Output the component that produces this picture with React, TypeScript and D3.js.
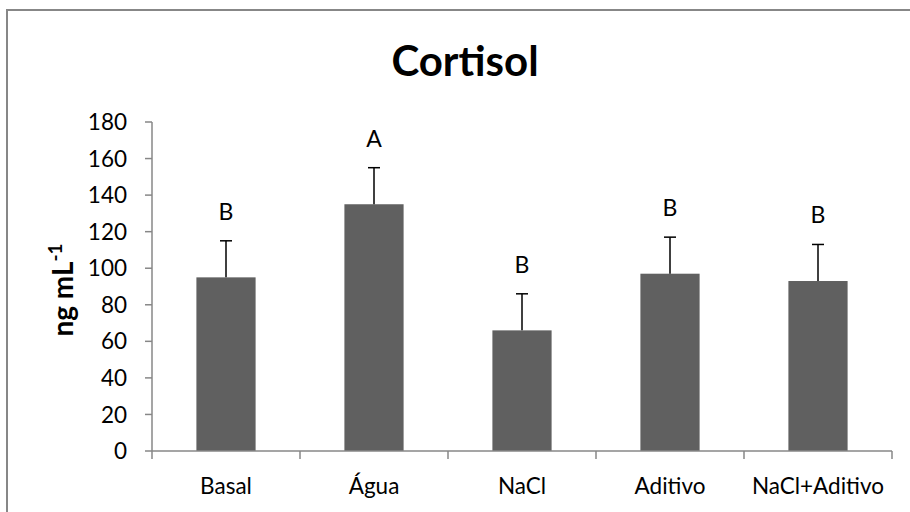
import React, { useEffect, useRef } from 'react';
import * as d3 from 'd3';

const categories = ['Basal', 'Água', 'NaCl', 'Aditivo', 'NaCl+Aditivo'];
const means = [95, 135, 66, 97, 93];
const errors = [20, 20, 20, 20, 20];
const letters = ['B', 'A', 'B', 'B', 'B'];
const yTicks = [0, 20, 40, 60, 80, 100, 120, 140, 160, 180];

const FONT = 'Lato, "Open Sans", sans-serif';

const CortisolChart: React.FC<{ width?: number; height?: number }> = ({
  width = 910,
  height = 512,
}) => {
  const svgRef = useRef<SVGSVGElement>(null);

  useEffect(() => {
    if (!svgRef.current) return;
    const svg = d3.select(svgRef.current);
    svg.selectAll('*').remove();

    const left = 152;
    const right = 892;
    const top = 122;
    const bottom = 451;

    const x = d3.scaleBand<string>().domain(categories).range([left, right]).paddingInner(0).paddingOuter(0);
    const y = d3.scaleLinear().domain([0, 180]).range([bottom, top]);
    const barW = x.bandwidth() * 0.4;

    // outer frame (cut off at right/bottom like the source)
    svg
      .append('rect')
      .attr('x', 7)
      .attr('y', 10)
      .attr('width', width + 20)
      .attr('height', height + 20)
      .attr('fill', 'white')
      .attr('stroke', '#878787')
      .attr('stroke-width', 2);

    // title
    svg
      .append('text')
      .attr('x', (left + right) / 2 - 57)
      .attr('y', 76)
      .attr('text-anchor', 'middle')
      .style('font-family', FONT)
      .style('font-weight', 700)
      .style('font-size', '42px')
      .style('fill', '#000')
      .text('Cortisol');

    // y axis
    const axisColor = '#878787';
    svg
      .append('line')
      .attr('x1', left)
      .attr('x2', left)
      .attr('y1', top)
      .attr('y2', bottom)
      .attr('stroke', axisColor)
      .attr('stroke-width', 1.5);

    const yt = svg.append('g');
    yt.selectAll('line')
      .data(yTicks)
      .enter()
      .append('line')
      .attr('x1', left - 7)
      .attr('x2', left)
      .attr('y1', d => y(d))
      .attr('y2', d => y(d))
      .attr('stroke', axisColor)
      .attr('stroke-width', 1.5);
    yt.selectAll('text')
      .data(yTicks)
      .enter()
      .append('text')
      .attr('x', left - 25)
      .attr('y', d => y(d))
      .attr('dy', '0.36em')
      .attr('text-anchor', 'end')
      .style('font-family', FONT)
      .style('font-size', '22.5px')
      .style('fill', '#000')
      .text(d => d);

    // y label
    const yl = svg
      .append('text')
      .attr('transform', `translate(73,290) rotate(-90)`)
      .attr('text-anchor', 'middle')
      .style('font-family', FONT)
      .style('font-weight', 700)
      .style('font-size', '28px')
      .style('fill', '#000');
    yl.append('tspan').text('ng mL');
    yl.append('tspan').attr('dy', -11).style('font-size', '19px').text('-1');

    // bars
    svg
      .append('g')
      .selectAll('rect')
      .data(means)
      .enter()
      .append('rect')
      .attr('x', (d, i) => (x(categories[i]) as number) + (x.bandwidth() - barW) / 2)
      .attr('y', d => y(d))
      .attr('width', barW)
      .attr('height', d => bottom - y(d))
      .attr('fill', '#606060');

    // error bars (upper only)
    const eb = svg.append('g');
    means.forEach((m, i) => {
      const cx = (x(categories[i]) as number) + x.bandwidth() / 2;
      eb.append('line')
        .attr('x1', cx)
        .attr('x2', cx)
        .attr('y1', y(m))
        .attr('y2', y(m + errors[i]))
        .attr('stroke', '#000')
        .attr('stroke-width', 1.5);
      eb.append('line')
        .attr('x1', cx - 6)
        .attr('x2', cx + 6)
        .attr('y1', y(m + errors[i]))
        .attr('y2', y(m + errors[i]))
        .attr('stroke', '#000')
        .attr('stroke-width', 1.5);
      eb.append('text')
        .attr('x', cx)
        .attr('y', y(m + errors[i]) - 21)
        .attr('text-anchor', 'middle')
        .style('font-family', FONT)
        .style('font-size', '23px')
        .style('fill', '#000')
        .text(letters[i]);
    });

    // x axis
    svg
      .append('line')
      .attr('x1', left)
      .attr('x2', right)
      .attr('y1', bottom)
      .attr('y2', bottom)
      .attr('stroke', axisColor)
      .attr('stroke-width', 1.5);
    const bounds = categories.map(c => x(c) as number).concat([right]);
    svg
      .append('g')
      .selectAll('line')
      .data(bounds)
      .enter()
      .append('line')
      .attr('x1', d => d)
      .attr('x2', d => d)
      .attr('y1', bottom)
      .attr('y2', bottom + 8)
      .attr('stroke', axisColor)
      .attr('stroke-width', 1.5);
    svg
      .append('g')
      .selectAll('text')
      .data(categories)
      .enter()
      .append('text')
      .attr('x', d => (x(d) as number) + x.bandwidth() / 2)
      .attr('y', 494)
      .attr('text-anchor', 'middle')
      .style('font-family', FONT)
      .style('font-size', '22.5px')
      .style('fill', '#000')
      .text(d => d);
  }, [width, height]);

  return (
    <svg
      ref={svgRef}
      width={width}
      height={height}
      style={{ position: 'absolute', left: 0, top: 0, background: 'white' }}
    ></svg>
  );
};

export default function App() {
  return <CortisolChart />;
}
